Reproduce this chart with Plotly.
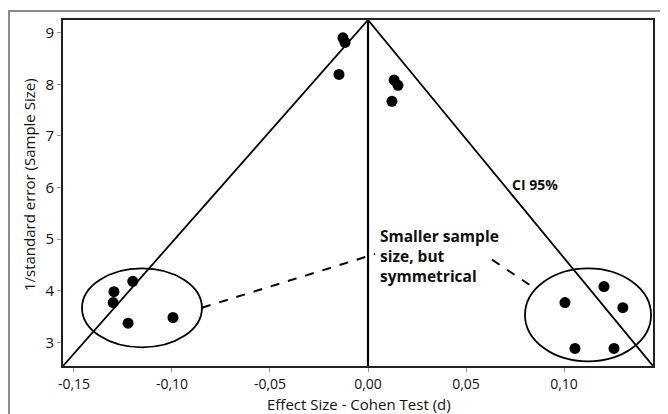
import plotly.graph_objects as go

# ---- data ----
effect_size = [-0.0128, -0.0117, -0.0148, 0.0133, 0.0153, 0.0122,
               -0.1296, -0.1300, -0.1200, -0.1224, -0.0995,
               0.1005, 0.1204, 0.1300, 0.1056, 0.1255]
inv_se = [8.90, 8.81, 8.19, 8.08, 7.98, 7.67,
          3.98, 3.77, 4.18, 3.37, 3.48,
          3.77, 4.08, 3.67, 2.88, 2.88]

x_range = [-0.1556, 0.1454]
y_range = [2.54, 9.245]

funnel_x = [-0.1556, 0.0, 0.1454]
funnel_y = [2.54, 9.245, 2.54]
center_x = [0.0, 0.0]
center_y = [2.54, 9.245]

x_tickvals = [-0.15, -0.10, -0.05, 0.00, 0.05, 0.10]
x_ticktext = ["-0,15", "-0,10", "-0,05", "0,00", "0,05", "0,10"]
y_tickvals = [3, 4, 5, 6, 7, 8, 9]
y_ticktext = ["3", "4", "5", "6", "7", "8", "9"]

# ellipse bounds [x0, x1, y0, y1]
left_ellipse = [-0.1459, -0.0847, 2.90, 4.43]
right_ellipse = [0.0801, 0.1444, 2.63, 4.43]
# dashed connectors [x0, y0, x1, y1]
left_dash = [-0.0847, 3.67, 0.0036, 4.71]
right_dash = [0.0633, 4.60, 0.0837, 4.08]

note_text = "Smaller sample<br>size, but<br>symmetrical"
note_pos = [0.0052, 4.676]
ci_text = "CI 95%"
ci_pos = [0.0722, 6.06]

FONT = "Open Sans"

# page has an 8px body margin: figure is drawn 8px right/down of page origin
W, H = 660, 406

fig = go.Figure()
fig.add_trace(go.Scatter(x=funnel_x, y=funnel_y, mode="lines",
                         line=dict(color="black", width=1.8), hoverinfo="skip"))
fig.add_trace(go.Scatter(x=center_x, y=center_y, mode="lines",
                         line=dict(color="black", width=2.2), hoverinfo="skip"))
fig.add_trace(go.Scatter(x=effect_size, y=inv_se, mode="markers",
                         marker=dict(color="black", size=11, line=dict(width=0))))

for e in (left_ellipse, right_ellipse):
    fig.add_shape(type="circle", xref="x", yref="y", x0=e[0], x1=e[1], y0=e[2], y1=e[3],
                  line=dict(color="black", width=1.8))
for d in (left_dash, right_dash):
    fig.add_shape(type="line", xref="x", yref="y", x0=d[0], y0=d[1], x1=d[2], y1=d[3],
                  line=dict(color="black", width=2, dash="dash"))

# outer grey frame (page pixels converted to paper coords of the 590x348 plot area)
fig.add_shape(type="rect", xref="paper", yref="paper",
              x0=(9 - 63) / 590, x1=(680 - 63) / 590,
              y0=(366 - 430) / 348, y1=(366 - 9) / 348,
              line=dict(color="#8a8a8a", width=2), layer="below")

fig.add_annotation(x=note_pos[0], y=note_pos[1], xref="x", yref="y", text="<b>" + note_text + "</b>",
                   showarrow=False, xanchor="left", yanchor="middle", align="left",
                   font=dict(family=FONT, size=15.5, color="#111"))
fig.add_annotation(x=ci_pos[0], y=ci_pos[1], xref="x", yref="y", text="<b>" + ci_text + "</b>",
                   showarrow=False, xanchor="left", yanchor="middle",
                   font=dict(family=FONT, size=14, color="#111"))
fig.add_annotation(x=(29 - 63) / 590, y=(366 - 184) / 348, xref="paper", yref="paper",
                   text="1/standard error (Sample Size)", textangle=-90, showarrow=False,
                   xanchor="center", yanchor="middle",
                   font=dict(family=FONT, size=15, color="#111"))
fig.add_annotation(x=(359 - 63) / 590, y=(366 - 404) / 348, xref="paper", yref="paper",
                   text="Effect Size - Cohen Test (d)", showarrow=False,
                   xanchor="center", yanchor="middle",
                   font=dict(family=FONT, size=15, color="#111"))

fig.update_xaxes(range=x_range, tickvals=x_tickvals, ticktext=x_ticktext,
                 showgrid=False, zeroline=False, showline=True, linecolor="#222", linewidth=2,
                 mirror=True, ticks="outside", ticklen=4, tickcolor="#999",
                 tickfont=dict(family=FONT, size=14, color="#111"))
fig.update_yaxes(range=y_range, tickvals=y_tickvals, ticktext=y_ticktext,
                 showgrid=False, zeroline=False, showline=True, linecolor="#222", linewidth=2,
                 mirror=True, ticks="outside", ticklen=4, tickcolor="#999",
                 tickfont=dict(family=FONT, size=15, color="#111"))

fig.update_layout(width=W, height=H, showlegend=False,
                  margin=dict(l=55, r=15, t=10, b=48),
                  plot_bgcolor="white", paper_bgcolor="white")

fig.write_html("out.html")
